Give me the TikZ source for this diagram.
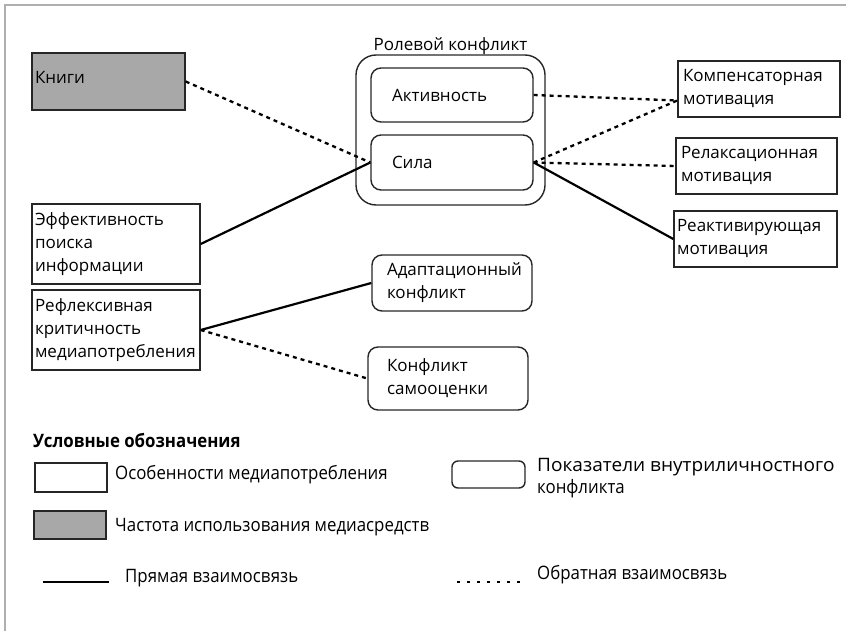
\documentclass[tikz,border=0pt]{standalone}
\usepackage{fontspec}
\setmainfont{Open Sans}
\newfontfamily\legfont{Open Sans}[FakeStretch=0.91]
\newfontfamily\legwide{Open Sans}[FakeStretch=1.03]
\definecolor{boxgray}{RGB}{168,168,168}
\definecolor{framegray}{RGB}{175,175,175}
\begin{document}
\begin{tikzpicture}[x=1pt,y=-1pt,
  txt/.style={font=\fontsize{17}{23}\selectfont},
  sqbox/.style={draw=black!85, line width=1.4pt, rectangle, inner ysep=0pt, align=left, txt},
  rbox/.style={sqbox, rounded corners=10pt},
  solidlink/.style={line width=2.2pt, black},
  dotlink/.style={line width=2.3pt, black, dash pattern=on 4pt off 4pt},
  legdot/.style={line width=2.2pt, black, dash pattern=on 3pt off 7pt},
  legtxt/.style={font=\legfont\fontsize{18.5}{22}\selectfont, anchor=west, align=left, inner sep=0pt}
]
\useasboundingbox (0,0) rectangle (846,631);
\draw[framegray, line width=2pt] (4,5) -- (846,5);
\draw[framegray, line width=2pt] (5,5) -- (5,631);

% left boxes
\node[sqbox, fill=boxgray, minimum width=153pt, minimum height=57pt, text width=147pt, inner xsep=3pt, text depth=9pt] (kn) at (108.5,81.5) {Книги};
\node[sqbox, minimum width=168pt, minimum height=80pt, text width=162pt, inner xsep=3pt] (eff) at (116,244) {Эффективность\\поиска\\информации};
\node[sqbox, minimum width=168pt, minimum height=80pt, text width=162pt, inner xsep=3pt] (refl) at (116,330) {Рефлексивная\\критичность\\медиапотребления};

% role conflict group
\node[draw=black!85, line width=1.4pt, rounded corners=20pt, minimum width=189pt, minimum height=150pt,
  label={[txt, inner sep=0pt]above:Ролевой конфликт}] (role) at (450.5,130) {};
\node[rbox, minimum width=162pt, minimum height=54pt, text width=120pt, inner xsep=21pt] (akt) at (452,95) {Активность};
\node[rbox, minimum width=162pt, minimum height=55pt, text width=120pt, inner xsep=21pt] (sila) at (452,162.5) {Сила};

\node[rbox, minimum width=160pt, minimum height=56pt, text width=130pt, inner xsep=15pt] (adapt) at (452,283) {Адаптационный\\конфликт};
\node[rbox, minimum width=160pt, minimum height=63pt, text width=122pt, inner xsep=19pt] (samo) at (448,378.5) {Конфликт\\самооценки};

% right boxes
\node[sqbox, minimum width=162pt, minimum height=56pt, text width=152pt, inner xsep=5pt] (komp) at (759,89) {Компенсаторная\\мотивация};
\node[sqbox, minimum width=161pt, minimum height=56pt, text width=151pt, inner xsep=5pt] (rel) at (756.5,166) {Релаксационная\\мотивация};
\node[sqbox, minimum width=163pt, minimum height=56pt, text width=157pt, inner xsep=3pt] (react) at (755.5,239) {Реактивирующая\\мотивация};

% connectors
\draw[dotlink] (kn.east) -- (sila.west);
\draw[solidlink] (eff.east) -- (sila.west);
\draw[dotlink] (akt.east) -- (komp.188);
\draw[dotlink] (sila.east) -- (komp.188);
\draw[dotlink] (sila.east) -- (rel.west);
\draw[solidlink] (sila.east) -- (react.west);
\draw[solidlink] (refl.east) -- (adapt.west);
\draw[dotlink] (refl.east) -- (samo.west);

% legend
\node[legtxt, font=\legfont\bfseries\fontsize{18.5}{22}\selectfont] (legtitle) at (33,440) {Условные обозначения};
\node[draw=black!85, line width=1.4pt, minimum width=72pt, minimum height=29pt, inner sep=0pt] (lb1) at (71,477.5) {};
\node[legtxt] (lt1) at (115,475) {Особенности медиапотребления};
\node[draw=black!85, line width=1.4pt, fill=boxgray, minimum width=72pt, minimum height=28pt, inner sep=0pt] (lb2) at (70,525) {};
\node[legtxt] (lt2) at (115,527) {Частота использования медиасредств};
\node[draw=black!85, line width=1.4pt, rounded corners=6pt, minimum width=73pt, minimum height=27pt, inner sep=0pt] (lb3) at (488.5,474.5) {};
\node[legtxt] (lt3) at (537,478) {{\legwide Показатели внутриличностного}\\конфликта};
\coordinate (ls1) at (43,582);
\coordinate (ls2) at (109,582);
\draw[solidlink] (ls1) -- (ls2);
\node[legtxt] (lt4) at (125,578) {Прямая взаимосвязь};
\coordinate (ld1) at (457,582);
\coordinate (ld2) at (525,582);
\draw[legdot] (ld1) -- (ld2);
\node[legtxt] (lt5) at (537,575) {Обратная взаимосвязь};
\end{tikzpicture}
\end{document}
